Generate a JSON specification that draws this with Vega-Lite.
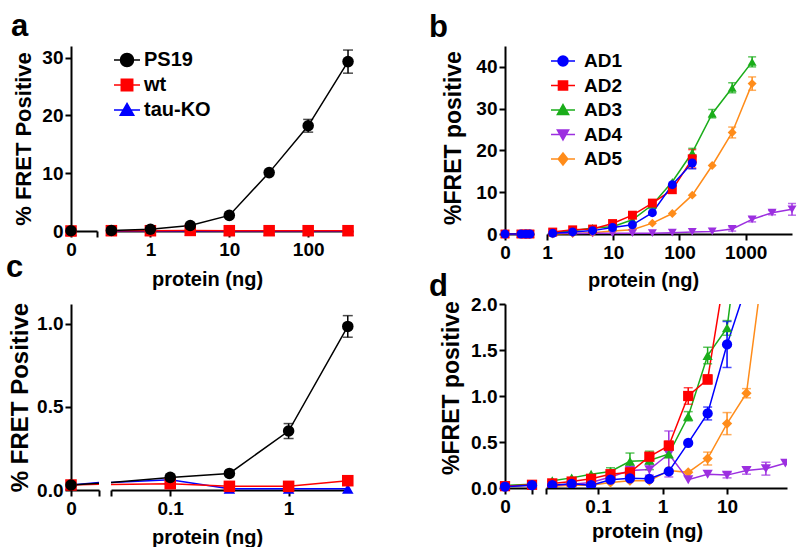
{
"$schema":"https://vega.github.io/schema/vega-lite/v6.json",
"background":"white",
"padding":{"left":5,"top":10,"right":5,"bottom":0},
"config":{
 "font":"Liberation Sans",
 "view":{"stroke":null},
 "axis":{"domainColor":"#000","domainWidth":2,"tickColor":"#000","tickWidth":2,"tickSize":6,"labelFont":"Liberation Sans","labelFontWeight":"bold","labelColor":"#000","labelFontSize":19,"titleFont":"Liberation Sans","titleFontWeight":"bold","titleColor":"#000","grid":false,"labelFlush":false,"labelOverlap":false},
 "axisX":{"labelPadding":3,"titleFontSize":20,"titleBaseline":"top","titleAlign":"center","titleAngle":0},
 "axisY":{"labelPadding":2,"titleFontSize":23,"titleBaseline":"alphabetic","titleAlign":"center","titleAngle":270},
 "title":{"font":"Liberation Sans","fontWeight":"bold","color":"#000","fontSize":31,"anchor":"start","frame":"bounds","baseline":"alphabetic"},
 "legend":{"labelFont":"Liberation Sans","labelFontWeight":"bold","labelColor":"#000","labelOffset":4,"padding":0,"rowPadding":1,"symbolStrokeWidth":1.5,"symbolOpacity":1}
},
"datasets":{
"a":[
{"g":"z","s":"tau-KO","x":0,"y":0},
{"g":"z","s":"wt","x":0,"y":0},
{"g":"z","s":"PS19","x":0,"y":0.05},
{"g":"l","s":"tau-KO","x":0.32,"y":0},
{"g":"l","s":"tau-KO","x":1,"y":0},
{"g":"l","s":"tau-KO","x":3.2,"y":0},
{"g":"l","s":"tau-KO","x":10,"y":0},
{"g":"l","s":"tau-KO","x":32,"y":0},
{"g":"l","s":"tau-KO","x":100,"y":0},
{"g":"l","s":"tau-KO","x":320,"y":0},
{"g":"l","s":"wt","x":0.32,"y":0.05},
{"g":"l","s":"wt","x":1,"y":0.05},
{"g":"l","s":"wt","x":3.2,"y":0.1},
{"g":"l","s":"wt","x":10,"y":0.05},
{"g":"l","s":"wt","x":32,"y":0.05},
{"g":"l","s":"wt","x":100,"y":0.05},
{"g":"l","s":"wt","x":320,"y":0.05},
{"g":"l","s":"PS19","x":0.32,"y":0.1},
{"g":"l","s":"PS19","x":1,"y":0.3},
{"g":"l","s":"PS19","x":3.2,"y":0.95},
{"g":"l","s":"PS19","x":10,"y":2.7},
{"g":"l","s":"PS19","x":32,"y":10.1},
{"g":"l","s":"PS19","x":100,"y":18.2,"e":1.1},
{"g":"l","s":"PS19","x":320,"y":29.3,"e":2.0}
],
"b":[
{"g":"z","s":"AD5","x":0,"y":0},{"g":"z","s":"AD5","x":0.55,"y":0},{"g":"z","s":"AD5","x":0.72,"y":0},{"g":"z","s":"AD5","x":0.86,"y":0},
{"g":"z","s":"AD4","x":0,"y":0},{"g":"z","s":"AD4","x":0.55,"y":0},{"g":"z","s":"AD4","x":0.72,"y":0},{"g":"z","s":"AD4","x":0.86,"y":0},
{"g":"z","s":"AD3","x":0,"y":0},{"g":"z","s":"AD3","x":0.55,"y":0},{"g":"z","s":"AD3","x":0.72,"y":0},{"g":"z","s":"AD3","x":0.86,"y":0},
{"g":"z","s":"AD2","x":0,"y":0},{"g":"z","s":"AD2","x":0.55,"y":0},{"g":"z","s":"AD2","x":0.72,"y":0},{"g":"z","s":"AD2","x":0.86,"y":0},
{"g":"z","s":"AD1","x":0,"y":0},{"g":"z","s":"AD1","x":0.55,"y":0},{"g":"z","s":"AD1","x":0.72,"y":0},{"g":"z","s":"AD1","x":0.86,"y":0},
{"g":"l","s":"AD5","x":1.22,"y":0},
{"g":"l","s":"AD5","x":2.44,"y":0.1},
{"g":"l","s":"AD5","x":4.88,"y":0.3},
{"g":"l","s":"AD5","x":9.77,"y":0.7},
{"g":"l","s":"AD5","x":19.5,"y":1.0},
{"g":"l","s":"AD5","x":39,"y":2.6},
{"g":"l","s":"AD5","x":78,"y":4.9},
{"g":"l","s":"AD5","x":156,"y":9.3},
{"g":"l","s":"AD5","x":312,"y":16.4},
{"g":"l","s":"AD5","x":625,"y":24.3,"e":1.3},
{"g":"l","s":"AD5","x":1250,"y":36.0,"e":1.6},
{"g":"l","s":"AD4","x":1.22,"y":0.3},
{"g":"l","s":"AD4","x":2.44,"y":0.1},
{"g":"l","s":"AD4","x":4.88,"y":0.15},
{"g":"l","s":"AD4","x":9.77,"y":0.15},
{"g":"l","s":"AD4","x":19.5,"y":0.2},
{"g":"l","s":"AD4","x":39,"y":0.2},
{"g":"l","s":"AD4","x":78,"y":0.3},
{"g":"l","s":"AD4","x":156,"y":0.5},
{"g":"l","s":"AD4","x":312,"y":0.6},
{"g":"l","s":"AD4","x":625,"y":1.2,"e":0.5},
{"g":"l","s":"AD4","x":1250,"y":3.5,"e":0.6},
{"g":"l","s":"AD4","x":2500,"y":5.1,"e":0.5},
{"g":"l","s":"AD4","x":5000,"y":5.9,"e":1.4},
{"g":"l","s":"AD3","x":1.22,"y":0.37},
{"g":"l","s":"AD3","x":2.44,"y":0.78},
{"g":"l","s":"AD3","x":4.88,"y":1.44},
{"g":"l","s":"AD3","x":9.77,"y":1.74},
{"g":"l","s":"AD3","x":19.5,"y":3.4},
{"g":"l","s":"AD3","x":39,"y":7.0},
{"g":"l","s":"AD3","x":78,"y":12.5},
{"g":"l","s":"AD3","x":156,"y":19.5,"e":1.0},
{"g":"l","s":"AD3","x":312,"y":28.8,"e":1.0},
{"g":"l","s":"AD3","x":625,"y":35.0,"e":1.2},
{"g":"l","s":"AD3","x":1250,"y":41.2,"e":1.2},
{"g":"l","s":"AD2","x":1.22,"y":0.46},
{"g":"l","s":"AD2","x":2.44,"y":1.0},
{"g":"l","s":"AD2","x":4.88,"y":1.18},
{"g":"l","s":"AD2","x":9.77,"y":2.5},
{"g":"l","s":"AD2","x":19.5,"y":4.5},
{"g":"l","s":"AD2","x":39,"y":7.4},
{"g":"l","s":"AD2","x":78,"y":10.6},
{"g":"l","s":"AD2","x":156,"y":18.0,"e":2.2},
{"g":"l","s":"AD1","x":1.22,"y":0.18},
{"g":"l","s":"AD1","x":2.44,"y":0.49},
{"g":"l","s":"AD1","x":4.88,"y":0.81},
{"g":"l","s":"AD1","x":9.77,"y":1.56},
{"g":"l","s":"AD1","x":19.5,"y":2.2},
{"g":"l","s":"AD1","x":39,"y":5.1},
{"g":"l","s":"AD1","x":78,"y":11.8},
{"g":"l","s":"AD1","x":156,"y":17.0,"e":1.4}
],
"c":[
{"g":"z","s":"tau-KO","x":0,"y":0.03},
{"g":"z","s":"tau-KO","x":1,"y":0.045},
{"g":"z","s":"wt","x":0,"y":0.03},
{"g":"z","s":"wt","x":1,"y":0.035},
{"g":"z","s":"PS19","x":0,"y":0.03},
{"g":"z","s":"PS19","x":1,"y":0.04},
{"g":"l","s":"tau-KO","x":0.0316,"y":0.045},
{"g":"l","s":"tau-KO","x":0.1,"y":0.062},
{"g":"l","s":"tau-KO","x":0.316,"y":0.008},
{"g":"l","s":"tau-KO","x":1,"y":0.008},
{"g":"l","s":"tau-KO","x":3.16,"y":0.008},
{"g":"l","s":"wt","x":0.0316,"y":0.033},
{"g":"l","s":"wt","x":0.1,"y":0.038},
{"g":"l","s":"wt","x":0.316,"y":0.022},
{"g":"l","s":"wt","x":1,"y":0.022},
{"g":"l","s":"wt","x":3.16,"y":0.056},
{"g":"l","s":"PS19","x":0.0316,"y":0.045},
{"g":"l","s":"PS19","x":0.1,"y":0.076,"e":0.012},
{"g":"l","s":"PS19","x":0.316,"y":0.1},
{"g":"l","s":"PS19","x":1,"y":0.355,"e":0.045},
{"g":"l","s":"PS19","x":3.16,"y":0.985,"e":0.065}
],
"d":[
{"g":"z","s":"AD5","x":0,"y":0.02},{"g":"z","s":"AD5","x":1,"y":0.03},
{"g":"z","s":"AD4","x":0,"y":0.02},{"g":"z","s":"AD4","x":1,"y":0.03},
{"g":"z","s":"AD3","x":0,"y":0.03},{"g":"z","s":"AD3","x":1,"y":0.04},
{"g":"z","s":"AD2","x":0,"y":0.02},{"g":"z","s":"AD2","x":1,"y":0.035},
{"g":"z","s":"AD1","x":0,"y":0.015},{"g":"z","s":"AD1","x":1,"y":0.03},
{"g":"l","s":"AD5","x":0.0195,"y":0.02},
{"g":"l","s":"AD5","x":0.039,"y":0.03},
{"g":"l","s":"AD5","x":0.078,"y":0.03},
{"g":"l","s":"AD5","x":0.156,"y":0.06},
{"g":"l","s":"AD5","x":0.3125,"y":0.08},
{"g":"l","s":"AD5","x":0.625,"y":0.08},
{"g":"l","s":"AD5","x":1.25,"y":0.19},
{"g":"l","s":"AD5","x":2.5,"y":0.17},
{"g":"l","s":"AD5","x":5,"y":0.32,"e":0.07},
{"g":"l","s":"AD5","x":10,"y":0.7,"e":0.12},
{"g":"l","s":"AD5","x":20,"y":1.03,"e":0.05},
{"g":"l","s":"AD5","x":40,"y":2.65},
{"g":"l","s":"AD4","x":0.0195,"y":0.03},
{"g":"l","s":"AD4","x":0.039,"y":0.04},
{"g":"l","s":"AD4","x":0.078,"y":0.06},
{"g":"l","s":"AD4","x":0.156,"y":0.12},
{"g":"l","s":"AD4","x":0.3125,"y":0.19,"e":0.05},
{"g":"l","s":"AD4","x":0.625,"y":0.2,"e":0.06},
{"g":"l","s":"AD4","x":1.25,"y":0.37,"e":0.25},
{"g":"l","s":"AD4","x":2.5,"y":0.09},
{"g":"l","s":"AD4","x":5,"y":0.15},
{"g":"l","s":"AD4","x":10,"y":0.14,"e":0.03},
{"g":"l","s":"AD4","x":20,"y":0.19,"e":0.04},
{"g":"l","s":"AD4","x":40,"y":0.21,"e":0.07},
{"g":"l","s":"AD4","x":80,"y":0.27},
{"g":"l","s":"AD3","x":0.0195,"y":0.08},
{"g":"l","s":"AD3","x":0.039,"y":0.11},
{"g":"l","s":"AD3","x":0.078,"y":0.15},
{"g":"l","s":"AD3","x":0.156,"y":0.18,"e":0.04},
{"g":"l","s":"AD3","x":0.3125,"y":0.29,"e":0.09},
{"g":"l","s":"AD3","x":0.625,"y":0.3,"e":0.1},
{"g":"l","s":"AD3","x":1.25,"y":0.37},
{"g":"l","s":"AD3","x":2.5,"y":0.78,"e":0.05},
{"g":"l","s":"AD3","x":5,"y":1.44,"e":0.09},
{"g":"l","s":"AD3","x":10,"y":1.74,"e":0.08},
{"g":"l","s":"AD3","x":20,"y":3.4},
{"g":"l","s":"AD2","x":0.0195,"y":0.05},
{"g":"l","s":"AD2","x":0.039,"y":0.07},
{"g":"l","s":"AD2","x":0.078,"y":0.1,"e":0.02},
{"g":"l","s":"AD2","x":0.156,"y":0.15,"e":0.03},
{"g":"l","s":"AD2","x":0.3125,"y":0.17,"e":0.04},
{"g":"l","s":"AD2","x":0.625,"y":0.34,"e":0.04},
{"g":"l","s":"AD2","x":1.25,"y":0.46,"e":0.05},
{"g":"l","s":"AD2","x":2.5,"y":1.0,"e":0.09},
{"g":"l","s":"AD2","x":5,"y":1.18,"e":0.05},
{"g":"l","s":"AD2","x":10,"y":2.48},
{"g":"l","s":"AD1","x":0.0195,"y":0.03},
{"g":"l","s":"AD1","x":0.039,"y":0.045},
{"g":"l","s":"AD1","x":0.078,"y":0.03},
{"g":"l","s":"AD1","x":0.156,"y":0.09},
{"g":"l","s":"AD1","x":0.3125,"y":0.105},
{"g":"l","s":"AD1","x":0.625,"y":0.1},
{"g":"l","s":"AD1","x":1.25,"y":0.18},
{"g":"l","s":"AD1","x":2.5,"y":0.49},
{"g":"l","s":"AD1","x":5,"y":0.81,"e":0.07},
{"g":"l","s":"AD1","x":10,"y":1.56,"e":0.25},
{"g":"l","s":"AD1","x":20,"y":2.2}
]
},
"columns":2,
"bounds":"flush",
"spacing":{"row":70,"column":152},
"resolve":{"scale":{"color":"independent","shape":"independent","fill":"independent","stroke":"independent"},"legend":{"color":"independent","shape":"independent","fill":"independent","stroke":"independent"}},
"concat":[
{"title":{"text":"a","dx":-1,"offset":3.5},
 "width":282,"height":185,"data":{"name":"a"},
 "encoding":{
  "y":{"field":"y","type":"quantitative","scale":{"domain":[0,32],"nice":false},"axis":{"values":[0,10,20,30],"title":"% FRET Positive","titleX":-41,"titleY":92.5,"titleFontSize":22}},
  "color":{"field":"s","type":"nominal","scale":{"domain":["PS19","wt","tau-KO"],"range":["#000000","#ff0000","#0000ff"]},"legend":null}
 },
 "layer":[
  {"transform":[{"filter":"datum.g == 'z'"}],
   "encoding":{"x":{"field":"x","type":"quantitative","scale":{"domain":[0,1],"range":[0,26],"nice":false},"axis":{"orient":"bottom","values":[0,1],"labelExpr":"datum.value == 0 ? '0' : ''","title":null}}},
   "layer":[
    {"mark":{"type":"line","strokeWidth":1.5}},
    {"mark":{"type":"point","filled":true,"opacity":1,"size":133},"encoding":{"shape":{"field":"s","type":"nominal","scale":{"domain":["PS19","wt","tau-KO"],"range":["circle","square","triangle-up"]},"legend":null}}}
   ]},
  {"transform":[{"filter":"datum.g == 'l'"}],
   "encoding":{"x":{"field":"x","type":"quantitative","scale":{"type":"log","domain":[0.29,370],"range":[37,282],"nice":false},"axis":{"orient":"bottom","values":[1,10,100],"format":"~g","title":"protein (ng)","titleX":136,"titleY":38}}},
   "layer":[
    {"mark":{"type":"line","strokeWidth":1.5}},
    {"transform":[{"filter":"datum.e > 0"}],"mark":{"type":"errorbar","ticks":{"size":10},"thickness":1.5},"encoding":{"yError":{"field":"e"}}},
    {"mark":{"type":"point","filled":true,"opacity":1,"size":133},"encoding":{"shape":{"field":"s","type":"nominal","scale":{"domain":["PS19","wt","tau-KO"],"range":["circle","square","triangle-up"]},"legend":null}}},
    {"mark":{"type":"point","filled":true,"opacity":0,"strokeWidth":1.5},"encoding":{
      "fill":{"field":"s","type":"nominal","scale":{"domain":["PS19","wt","tau-KO"],"range":["#000000","#ff0000","#0000ff"]},"legend":{"orient":"none","legendX":42,"legendY":0,"title":null,"symbolSize":676,"labelFontSize":20,"labelOffset":3}},
      "stroke":{"field":"s","type":"nominal","scale":{"domain":["PS19","wt","tau-KO"],"range":["#000000","#ff0000","#0000ff"]},"legend":{"orient":"none","legendX":42,"legendY":0,"title":null,"symbolSize":676,"labelFontSize":20,"labelOffset":3}},
      "shape":{"field":"s","type":"nominal","scale":{"domain":["PS19","wt","tau-KO"],"range":["M-1,0L1,0M-0.5,0A0.5,0.5,0,1,0,0.5,0A0.5,0.5,0,1,0,-0.5,0Z","M-1,0L1,0M-0.44,-0.44L0.44,-0.44L0.44,0.44L-0.44,0.44Z","M-1,0L1,0M0,-0.5L0.52,0.4L-0.52,0.4Z"]},"legend":{"orient":"none","legendX":42,"legendY":0,"title":null,"symbolSize":676,"labelFontSize":20,"labelOffset":3}}
    }}
   ],
   "resolve":{"scale":{"shape":"independent","fill":"independent","stroke":"independent"},"legend":{"shape":"independent","fill":"independent","stroke":"independent"}}}
 ],
 "resolve":{"scale":{"x":"independent","shape":"independent"},"axis":{"x":"independent"},"legend":{"shape":"independent"}}
},
{"title":{"text":"b","dx":-13,"offset":2.5},
 "width":287,"height":188,"data":{"name":"b"},
 "encoding":{
  "y":{"field":"y","type":"quantitative","scale":{"domain":[0,45],"nice":false},"axis":{"values":[0,10,20,30,40],"title":"%FRET positive","titleX":-45,"titleY":91.5}},
  "color":{"field":"s","type":"nominal","scale":{"domain":["AD1","AD2","AD3","AD4","AD5"],"range":["#0000ff","#ff0000","#1aad1a","#9c2fe0","#ff8c1a"]},"legend":null}
 },
 "layer":[
  {"transform":[{"filter":"datum.g == 'z'"}],
   "encoding":{"x":{"field":"x","type":"quantitative","scale":{"domain":[0,1],"range":[0,29],"nice":false},"axis":{"orient":"bottom","values":[0],"title":null}}},
   "layer":[
    {"mark":{"type":"line","strokeWidth":1.5}},
    {"mark":{"type":"point","filled":true,"opacity":1,"size":80},"encoding":{"shape":{"field":"s","type":"nominal","scale":{"domain":["AD1","AD2","AD3","AD4","AD5"],"range":["circle","square","triangle-up","triangle-down","diamond"]},"legend":null}}}
   ]},
  {"transform":[{"filter":"datum.g == 'l'"}],
   "encoding":{"x":{"field":"x","type":"quantitative","scale":{"type":"log","domain":[1,5000],"range":[42,287],"nice":false},"axis":{"orient":"bottom","values":[1,10,100,1000],"format":"~g","title":"protein (ng)","titleX":138,"titleY":36}}},
   "layer":[
    {"mark":{"type":"line","strokeWidth":1.5}},
    {"transform":[{"filter":"datum.e > 0"}],"mark":{"type":"errorbar","ticks":{"size":8},"thickness":1.5},"encoding":{"yError":{"field":"e"}}},
    {"mark":{"type":"point","filled":true,"opacity":1,"size":80},"encoding":{"shape":{"field":"s","type":"nominal","scale":{"domain":["AD1","AD2","AD3","AD4","AD5"],"range":["circle","square","triangle-up","triangle-down","diamond"]},"legend":null}}},
    {"mark":{"type":"point","filled":true,"opacity":0,"strokeWidth":1.5},"encoding":{
      "fill":{"field":"s","type":"nominal","scale":{"domain":["AD1","AD2","AD3","AD4","AD5"],"range":["#0000ff","#ff0000","#1aad1a","#9c2fe0","#ff8c1a"]},"legend":{"orient":"none","legendX":45,"legendY":2,"title":null,"symbolSize":576,"labelFontSize":19,"rowPadding":1.5,"labelOffset":8}},
      "stroke":{"field":"s","type":"nominal","scale":{"domain":["AD1","AD2","AD3","AD4","AD5"],"range":["#0000ff","#ff0000","#1aad1a","#9c2fe0","#ff8c1a"]},"legend":{"orient":"none","legendX":45,"legendY":2,"title":null,"symbolSize":576,"labelFontSize":19,"rowPadding":1.5,"labelOffset":8}},
      "shape":{"field":"s","type":"nominal","scale":{"domain":["AD1","AD2","AD3","AD4","AD5"],"range":["M-1,0L1,0M-0.42,0A0.42,0.42,0,1,0,0.42,0A0.42,0.42,0,1,0,-0.42,0Z","M-1,0L1,0M-0.38,-0.38L0.38,-0.38L0.38,0.38L-0.38,0.38Z","M-1,0L1,0M0,-0.45L0.47,0.37L-0.47,0.37Z","M-1,0L1,0M0,0.45L0.47,-0.37L-0.47,-0.37Z","M-1,0L1,0M0,-0.5L0.4,0L0,0.5L-0.4,0Z"]},"legend":{"orient":"none","legendX":45,"legendY":2,"title":null,"symbolSize":576,"labelFontSize":19,"rowPadding":1.5,"labelOffset":8}}
    }}
   ],
   "resolve":{"scale":{"shape":"independent","fill":"independent","stroke":"independent"},"legend":{"shape":"independent","fill":"independent","stroke":"independent"}}}
 ],
 "resolve":{"scale":{"x":"independent","shape":"independent"},"axis":{"x":"independent"},"legend":{"shape":"independent"}}
},
{"title":{"text":"c","dx":-2,"offset":18},
 "width":279,"height":186,"data":{"name":"c"},
 "encoding":{
  "y":{"field":"y","type":"quantitative","scale":{"domain":[0,1.12],"nice":false},"axis":{"values":[0,0.5,1],"format":".1f","title":"% FRET Positive","titleX":-44,"titleY":93,"titleFontSize":24}},
  "color":{"field":"s","type":"nominal","scale":{"domain":["PS19","wt","tau-KO"],"range":["#000000","#ff0000","#0000ff"]},"legend":null}
 },
 "layer":[
  {"transform":[{"filter":"datum.g == 'z'"}],
   "encoding":{"x":{"field":"x","type":"quantitative","scale":{"domain":[0,1],"range":[0,28],"nice":false},"axis":{"orient":"bottom","values":[0,1],"labelExpr":"datum.value == 0 ? '0' : ''","title":null}}},
   "layer":[
    {"mark":{"type":"line","strokeWidth":1.5}},
    {"transform":[{"filter":"datum.x == 0"}],"mark":{"type":"point","filled":true,"opacity":1,"size":133},"encoding":{"shape":{"field":"s","type":"nominal","scale":{"domain":["PS19","wt","tau-KO"],"range":["circle","square","triangle-up"]},"legend":null}}}
   ]},
  {"transform":[{"filter":"datum.g == 'l'"}],
   "encoding":{"x":{"field":"x","type":"quantitative","scale":{"type":"log","domain":[0.0316,3.3],"range":[40,279],"nice":false},"axis":{"orient":"bottom","values":[0.0316,0.1,1],"format":"~g","labelExpr":"datum.value < 0.05 ? '' : datum.label","title":"protein (ng)","titleX":136,"titleY":37}}},
   "layer":[
    {"mark":{"type":"line","strokeWidth":1.5}},
    {"transform":[{"filter":"datum.e > 0"}],"mark":{"type":"errorbar","ticks":{"size":10},"thickness":1.5},"encoding":{"yError":{"field":"e"}}},
    {"transform":[{"filter":"datum.x > 0.05"}],"mark":{"type":"point","filled":true,"opacity":1,"size":133},"encoding":{"shape":{"field":"s","type":"nominal","scale":{"domain":["PS19","wt","tau-KO"],"range":["circle","square","triangle-up"]},"legend":null}}}
   ]}
 ],
 "resolve":{"scale":{"x":"independent"},"axis":{"x":"independent"}}
},
{"title":{"text":"d","dx":-11,"offset":-8},
 "width":282,"height":184,"data":{"name":"d"},
 "encoding":{
  "y":{"field":"y","type":"quantitative","scale":{"domain":[0,2],"nice":false},"axis":{"values":[0,0.5,1,1.5,2],"format":".1f","title":"%FRET positive","titleX":-47,"titleY":83.5}},
  "color":{"field":"s","type":"nominal","scale":{"domain":["AD1","AD2","AD3","AD4","AD5"],"range":["#0000ff","#ff0000","#1aad1a","#9c2fe0","#ff8c1a"]},"legend":null}
 },
 "layer":[
  {"transform":[{"filter":"datum.g == 'z'"}],
   "encoding":{"x":{"field":"x","type":"quantitative","scale":{"domain":[0,1],"range":[0,27],"nice":false},"axis":{"orient":"bottom","values":[0,1],"labelExpr":"datum.value == 0 ? '0' : ''","title":null}}},
   "layer":[
    {"mark":{"type":"line","strokeWidth":1.5}},
    {"mark":{"type":"point","filled":true,"opacity":1,"size":105},"encoding":{"shape":{"field":"s","type":"nominal","scale":{"domain":["AD1","AD2","AD3","AD4","AD5"],"range":["circle","square","triangle-up","triangle-down","diamond"]},"legend":null}}}
   ]},
  {"transform":[{"filter":"datum.g == 'l'"}],
   "encoding":{"x":{"field":"x","type":"quantitative","scale":{"type":"log","domain":[0.0156,85],"range":[41,282],"nice":false},"axis":{"orient":"bottom","values":[0.0156,0.1,1,10],"format":"~g","labelExpr":"datum.value < 0.05 ? '' : datum.label","title":"protein (ng)","titleX":142,"titleY":33}}},
   "layer":[
    {"mark":{"type":"line","strokeWidth":1.5,"clip":true}},
    {"transform":[{"filter":"datum.e > 0"}],"mark":{"type":"errorbar","ticks":{"size":9},"thickness":1.5},"encoding":{"yError":{"field":"e"}}},
    {"mark":{"type":"point","filled":true,"opacity":1,"size":105,"clip":true},"encoding":{"shape":{"field":"s","type":"nominal","scale":{"domain":["AD1","AD2","AD3","AD4","AD5"],"range":["circle","square","triangle-up","triangle-down","diamond"]},"legend":null}}}
   ]}
 ],
 "resolve":{"scale":{"x":"independent"},"axis":{"x":"independent"}}
}
]
}
